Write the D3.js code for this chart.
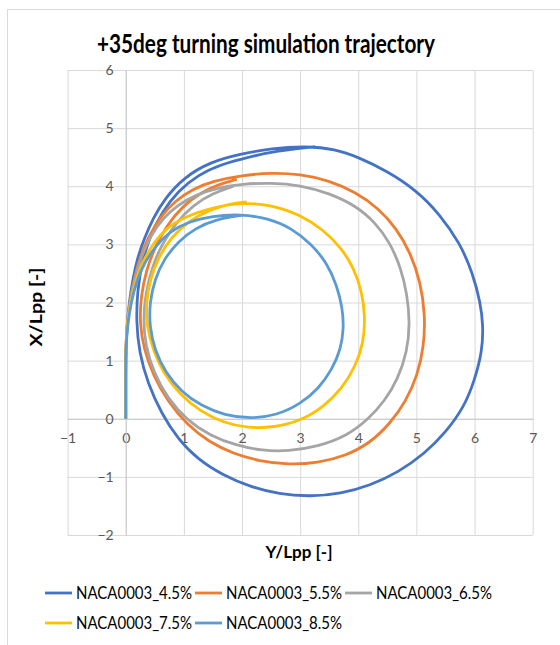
<!DOCTYPE html>
<html lang="en">
<head>
<meta charset="UTF-8">
<script src="https://d3js.org/d3.v7.min.js"></script>
<style>
  body { margin: 0; background: #fff; }
  svg { font-family: Lato, "Open Sans", sans-serif; }
</style>
</head>
<body>
<script>
// trajectories: [Y/Lpp, X/Lpp]
const naca45 = [[0,0],[0,0.6],[0,1.15],[0.02,1.6],[0.06,2.0],[0.12,2.4],[0.21,2.8],[0.32,3.1],[0.47,3.45],[0.68,3.8],[1.0,4.15],[1.45,4.42],[2.0,4.56],[2.5,4.65],[3.1,4.69],[3.6,4.64],[4.0,4.5],[4.5,4.26],[5.0,3.93],[5.4,3.52],[5.75,3.02],[5.97,2.5],[6.1,2.0],[6.15,1.6],[6.13,1.15],[6.0,0.66],[5.82,0.2],[5.5,-0.24],[5.14,-0.6],[4.69,-0.92],[4.2,-1.15],[3.7,-1.29],[3.17,-1.34],[2.64,-1.3],[2.14,-1.17],[1.67,-0.97],[1.24,-0.7],[0.9,-0.35],[0.62,0.08],[0.38,0.6],[0.23,1.15],[0.18,1.67],[0.2,2.2],[0.28,2.7],[0.42,3.15],[0.62,3.55],[0.9,3.92],[1.25,4.2],[1.65,4.38],[2.1,4.5],[2.6,4.61],[3.26,4.68]];
const naca55 = [[0,0],[0,0.6],[0,1.15],[0.02,1.6],[0.07,2.0],[0.14,2.4],[0.25,2.8],[0.4,3.15],[0.6,3.48],[0.85,3.75],[1.15,3.95],[1.5,4.09],[2.0,4.19],[2.5,4.23],[3.0,4.21],[3.5,4.1],[3.95,3.9],[4.35,3.62],[4.66,3.27],[4.9,2.85],[5.07,2.35],[5.15,1.8],[5.13,1.25],[5.02,0.75],[4.82,0.3],[4.55,-0.08],[4.2,-0.42],[3.78,-0.64],[3.3,-0.76],[2.8,-0.79],[2.3,-0.73],[1.85,-0.6],[1.43,-0.4],[1.05,-0.1],[0.72,0.3],[0.47,0.75],[0.31,1.2],[0.24,1.65],[0.26,2.1],[0.35,2.55],[0.5,2.95],[0.7,3.32],[0.97,3.65],[1.3,3.9],[1.6,4.03],[1.91,4.12]];
const naca65 = [[0,0],[0,0.6],[0,1.15],[0.02,1.6],[0.07,2.0],[0.15,2.4],[0.27,2.8],[0.43,3.15],[0.64,3.45],[0.9,3.68],[1.2,3.85],[1.6,3.98],[2.0,4.04],[2.5,4.06],[3.0,4.02],[3.5,3.88],[3.95,3.67],[4.3,3.37],[4.55,3.02],[4.73,2.6],[4.84,2.15],[4.89,1.64],[4.84,1.15],[4.68,0.68],[4.45,0.3],[4.18,0.0],[3.8,-0.3],[3.3,-0.48],[2.8,-0.56],[2.35,-0.55],[1.9,-0.46],[1.45,-0.29],[1.05,-0.02],[0.72,0.35],[0.48,0.8],[0.34,1.25],[0.3,1.7],[0.34,2.15],[0.45,2.6],[0.62,3.0],[0.86,3.37],[1.15,3.67],[1.5,3.88],[1.85,4.0]];
const naca75 = [[0,0],[0,0.6],[0,1.15],[0.02,1.6],[0.08,2.0],[0.17,2.38],[0.3,2.72],[0.48,3.03],[0.7,3.28],[1.0,3.47],[1.5,3.64],[2.02,3.72],[2.5,3.68],[3.0,3.51],[3.4,3.25],[3.7,2.95],[3.92,2.6],[4.06,2.2],[4.12,1.76],[4.09,1.3],[3.95,0.9],[3.72,0.52],[3.4,0.2],[3.0,-0.04],[2.55,-0.15],[2.1,-0.16],[1.68,-0.07],[1.28,0.13],[0.93,0.42],[0.65,0.78],[0.47,1.18],[0.36,1.6],[0.35,2.0],[0.42,2.4],[0.56,2.78],[0.78,3.12],[1.08,3.4],[1.45,3.6],[1.8,3.7],[2.08,3.73]];
const naca85 = [[0,0],[0,0.6],[0,1.18],[0.03,1.6],[0.09,2.0],[0.19,2.38],[0.33,2.7],[0.52,2.98],[0.76,3.22],[1.05,3.38],[1.5,3.49],[1.97,3.52],[2.45,3.45],[2.85,3.28],[3.2,3.0],[3.46,2.68],[3.63,2.3],[3.73,1.9],[3.75,1.55],[3.7,1.2],[3.55,0.85],[3.32,0.52],[3.0,0.25],[2.6,0.06],[2.15,0.0],[1.7,0.06],[1.3,0.22],[0.95,0.47],[0.68,0.8],[0.5,1.18],[0.41,1.58],[0.41,2.0],[0.5,2.4],[0.66,2.75],[0.9,3.05],[1.2,3.28],[1.55,3.43],[2.0,3.5]];

const seriesNames = ["NACA0003_4.5%", "NACA0003_5.5%", "NACA0003_6.5%", "NACA0003_7.5%", "NACA0003_8.5%"];
const seriesData = [naca45, naca55, naca65, naca75, naca85];
const colors = ["#4472C4", "#ED7D31", "#A5A5A5", "#FFC000", "#5B9BD5"];
const xTicks = [-1, 0, 1, 2, 3, 4, 5, 6, 7];
const yTicks = [-2, -1, 0, 1, 2, 3, 4, 5, 6];

const width = 560, height = 645;
const plotLeft = 67.6, plotRight = 532.7, plotTop = 70, plotBottom = 535;

const svg = d3.select("body").append("svg")
  .attr("width", width)
  .attr("height", height);

// chart frame
svg.append("path")
  .attr("d", `M7.5,${height}V9.5H${width}`)
  .attr("fill", "none")
  .attr("stroke", "#d9d9d9");

const x = d3.scaleLinear().domain([-1, 7]).range([plotLeft, plotRight]);
const y = d3.scaleLinear().domain([-2, 6]).range([plotBottom, plotTop]);

// gridlines
svg.append("g")
  .attr("transform", `translate(0,${plotBottom})`)
  .call(d3.axisBottom(x).tickValues(xTicks).tickSize(-(plotBottom - plotTop)).tickFormat(""))
  .call(g => g.select(".domain").remove())
  .call(g => g.selectAll("line").attr("stroke", "#d9d9d9"));
svg.append("g")
  .attr("transform", `translate(${plotLeft},0)`)
  .call(d3.axisLeft(y).tickValues(yTicks).tickSize(-(plotRight - plotLeft)).tickFormat(""))
  .call(g => g.select(".domain").remove())
  .call(g => g.selectAll("line").attr("stroke", "#d9d9d9"));

// axes through the origin
svg.append("g")
  .attr("transform", `translate(0,${y(0)})`)
  .call(d3.axisBottom(x).tickValues(xTicks).tickSize(0).tickPadding(14))
  .call(g => g.select(".domain").attr("stroke", "#c8c8c8"))
  .call(g => g.selectAll("text").attr("fill", "#595959").attr("font-size", 14).attr("font-family", "Lato"));
svg.append("g")
  .attr("transform", `translate(${x(0)},0)`)
  .call(d3.axisLeft(y).tickValues(yTicks).tickSize(0).tickPadding(12))
  .call(g => g.select(".domain").attr("stroke", "#c8c8c8"))
  .call(g => g.selectAll("text").attr("fill", "#595959").attr("font-size", 14).attr("font-family", "Lato"));

// trajectories
const line = d3.line()
  .x(d => x(d[0]))
  .y(d => y(d[1]))
  .curve(d3.curveBasis);

svg.append("g").selectAll("path")
  .data(seriesData)
  .join("path")
  .attr("d", line)
  .attr("fill", "none")
  .attr("stroke", (d, i) => colors[i])
  .attr("stroke-width", 2.8)
  .attr("stroke-linejoin", "round");

// titles
svg.append("text")
  .attr("x", 266).attr("y", 53)
  .attr("text-anchor", "middle")
  .attr("font-size", 26).attr("font-weight", "bold").attr("fill", "#000")
  .attr("textLength", 338).attr("lengthAdjust", "spacingAndGlyphs")
  .text("+35deg turning simulation trajectory");

svg.append("text")
  .attr("x", 299).attr("y", 558)
  .attr("text-anchor", "middle")
  .attr("font-size", 17).attr("font-weight", "bold").attr("fill", "#000")
  .attr("textLength", 67).attr("lengthAdjust", "spacingAndGlyphs")
  .text("Y/Lpp [-]");

svg.append("text")
  .attr("transform", "translate(42,307) rotate(-90)")
  .attr("text-anchor", "middle")
  .attr("font-size", 17).attr("font-weight", "bold").attr("fill", "#000")
  .attr("textLength", 79).attr("lengthAdjust", "spacingAndGlyphs")
  .text("X/Lpp [-]");

// legend, three per row
const legend = svg.append("g").selectAll("g")
  .data(seriesNames)
  .join("g")
  .attr("transform", (d, i) => `translate(${45 + (i % 3) * 150},${593 + Math.floor(i / 3) * 30})`);
legend.append("line")
  .attr("x1", 0).attr("x2", 27)
  .attr("stroke", (d, i) => colors[i])
  .attr("stroke-width", 2.8);
legend.append("text")
  .attr("x", 31).attr("dy", "0.36em")
  .attr("font-size", 17).attr("fill", "#000")
  .attr("textLength", 116).attr("lengthAdjust", "spacingAndGlyphs")
  .text(d => d);
</script>
</body>
</html>
